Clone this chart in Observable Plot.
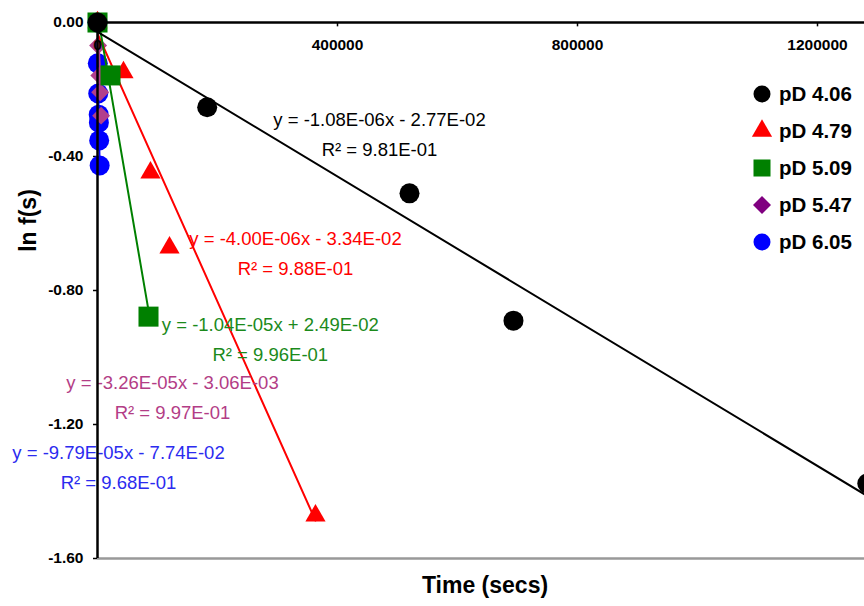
<!DOCTYPE html>
<html>
<head>
<meta charset="utf-8">
<script src="https://cdn.jsdelivr.net/npm/d3@7"></script>
<script src="https://cdn.jsdelivr.net/npm/@observablehq/plot@0.6"></script>
<style>
  body { margin: 0; background: #fff; font-family: Arial, "Liberation Sans", sans-serif; }
  #chart { position: relative; width: 864px; height: 606px; overflow: hidden; }
  #legend { position: absolute; left: 750px; top: 75px; }
  .item { display: flex; align-items: center; height: 37px; font-weight: bold; font-size: 20.5px; color: #000; }
  .item svg { width: 24px; height: 24px; margin-right: 5px; }
</style>
</head>
<body>
<div id="chart"><div id="legend"></div></div>
<script>
// Decay of ln f(s) with time at five pD values
const seriesNames = ["pD 4.06", "pD 4.79", "pD 5.09", "pD 5.47", "pD 6.05"];

const time406 = [0, 182800, 520000, 693300, 1283000];
const lnf406  = [0, -0.253, -0.510, -0.890, -1.376];

const time479 = [0, 43300, 88300, 120000, 363300];
const lnf479  = [0, -0.149, -0.448, -0.672, -1.472];

const time509 = [0, 21700, 85000];
const lnf509  = [0, -0.158, -0.878];

const time547 = [0, 1000, 3000, 4500, 6000];
const lnf547  = [0, -0.069, -0.158, -0.208, -0.278];

const time605 = [0, 500, 1200, 2000, 2300, 2800, 3600];
const lnf605  = [0, -0.122, -0.212, -0.275, -0.299, -0.352, -0.427];

// Linear fits y = m x + b and their R²
const slopes     = [-1.08e-6, -4.00e-6, -1.04e-5, -3.26e-5, -9.79e-5];
const intercepts = [-2.77e-2, -3.34e-2, 2.49e-2, -3.06e-3, -7.74e-2];
const rSquared   = [9.81e-1, 9.88e-1, 9.96e-1, 9.97e-1, 9.68e-1];

// Axis ticks
const xTicks = [0, 400000, 800000, 1200000];
const yTicks = [0, -0.4, -0.8, -1.2, -1.6];

// Where each fit equation is written (time, ln f)
const eqnAnchor = [[470000, -0.325], [330000, -0.680], [288000, -0.937], [125000, -1.111], [35000, -1.320]];

const times = [time406, time479, time509, time547, time605];
const lnfs  = [lnf406, lnf479, lnf509, lnf547, lnf605];

const markColor  = ["#000000", "#ff0000", "#008000", "#b23f8c", "#0000ff"];
const textColor  = ["#000000", "#ff0000", "#1b8a1b", "#b33d86", "#2b2bef"];
const legendColor = ["#000000", "#ff0000", "#008000", "#800080", "#0000ff"];
const symbols    = ["circle", "triangle", "square", "diamond2", "circle"];
const dotR       = [10, 7.5, 11.3, 8.1, 10];

function sci(v) {
  const [m, e] = v.toExponential(2).split("e");
  const n = +e;
  return m.toUpperCase() + "E" + (n < 0 ? "-" : "+") + String(Math.abs(n)).padStart(2, "0");
}

const series = seriesNames.map((name, i) => ({
  name,
  points: times[i].map((t, j) => ({t, v: lnfs[i][j]})),
  fit: [0, d3.max(times[i])].map(t => ({t, v: slopes[i] * t + intercepts[i]})),
  label: `y = ${sci(slopes[i])}x ${intercepts[i] < 0 ? "-" : "+"} ${sci(Math.abs(intercepts[i]))}\nR² = ${sci(rSquared[i])}`,
  at: eqnAnchor[i],
  i
}));

// Draw order: pD 6.05 first, pD 4.06 last (on top)
const drawOrder = [4, 3, 1, 2, 0];
const seriesMarks = drawOrder.flatMap(i => {
  const s = series[i];
  return [
    Plot.line(s.fit, {x: "t", y: "v", stroke: markColor[i], strokeWidth: 2, clip: true}),
    Plot.dot(s.points, {x: "t", y: "v", symbol: symbols[i], r: dotR[i], fill: markColor[i], stroke: "none"})
  ];
});

const labelMarks = series.map(s => Plot.text([s], {
  x: d => d.at[0], y: d => d.at[1], text: "label",
  fill: textColor[s.i], fontSize: 18.5, lineHeight: 1.6, textAnchor: "middle"
}));

const chart = Plot.plot({
  width: 864, height: 606,
  marginLeft: 97, marginRight: 0, marginTop: 22, marginBottom: 48,
  x: {domain: [0, 1278333], axis: null},
  y: {domain: [-1.6, 0], axis: null},
  style: {fontFamily: "Arial, 'Liberation Sans', sans-serif", background: "#fff", color: "#000"},
  marks: [
    Plot.ruleY([-1.6], {stroke: "#999", strokeWidth: 2.5}),
    Plot.axisY(yTicks, {anchor: "left", label: null, tickSize: 4, tickPadding: 10, tickFormat: d => d.toFixed(2),
      fontSize: 15.5, fontWeight: "bold", strokeWidth: 1.5}),
    ...seriesMarks,
    ...labelMarks,
    Plot.ruleX([0], {strokeWidth: 2.5}),
    Plot.ruleY([0], {strokeWidth: 2.5}),
    Plot.ruleX(xTicks, {x: d => d, y1: 0, y2: -0.013, strokeWidth: 1.5}),
    Plot.text(xTicks, {x: d => d, y: 0, dy: 23, text: d => String(d), fontSize: 15.5, fontWeight: "bold"}),
    Plot.text(["Time (secs)"], {frameAnchor: "bottom", dy: 34, dx: 4, fontSize: 23, fontWeight: "bold"}),
    Plot.text(["ln f(s)"], {frameAnchor: "left", textAnchor: "middle", dx: -69, dy: -70, rotate: -90, fontSize: 23, fontWeight: "bold"})
  ]
});
document.getElementById("chart").prepend(chart);

// Legend
const legend = d3.select("#legend");
const legendR = [8.5, 7.5, 9.6, 8.1, 8.5];
seriesNames.forEach((name, i) => {
  const item = legend.append("div").attr("class", "item");
  const svg = item.append("svg").attr("viewBox", "-12 -12 24 24");
  const sym = {circle: d3.symbolCircle, triangle: d3.symbolTriangle, square: d3.symbolSquare, diamond2: d3.symbolDiamond2}[symbols[i]];
  svg.append("path").attr("d", d3.symbol(sym, Math.PI * legendR[i] * legendR[i])()).attr("fill", legendColor[i]);
  item.append("span").text(name);
});
</script>
</body>
</html>
